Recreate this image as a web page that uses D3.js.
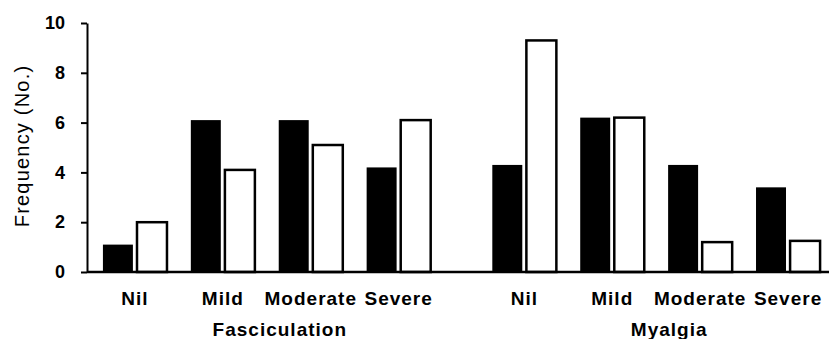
<!DOCTYPE html>
<html>
<head>
<meta charset="utf-8">
<script src="https://cdn.jsdelivr.net/npm/d3@7"></script>
<style>
  body { margin: 0; background: #fff; }
  text { font-family: "Liberation Sans", Arial, sans-serif; fill: #000; }
</style>
</head>
<body>
<div id="chart"></div>
<script>
// data
var groups = ["Fasciculation", "Myalgia"];
var categories = ["Nil", "Mild", "Moderate", "Severe"];
var series = ["black", "white"];
var fascBlack = [1.1, 6.1, 6.1, 4.2];
var fascWhite = [2.0, 4.1, 5.1, 6.1];
var myalBlack = [4.3, 6.2, 4.3, 3.4];
var myalWhite = [9.3, 6.2, 1.2, 1.25];
var yTicks = [0, 2, 4, 6, 8, 10];

var values = {
  "Fasciculation": { black: fascBlack, white: fascWhite },
  "Myalgia": { black: myalBlack, white: myalWhite }
};

var width = 829, height = 339;
var axisX = 87, baseY = 272;

var svg = d3.select("#chart").append("svg")
  .attr("width", width)
  .attr("height", height);

var y = d3.scaleLinear().domain([0, 10]).range([baseY, 23]);

var xGroup = d3.scaleBand().domain(groups).range([91, 832]).paddingInner(0.097);
var xCat = d3.scaleBand().domain(categories).range([0, xGroup.bandwidth()]);
var xSer = d3.scaleBand().domain(series).range([0, xCat.bandwidth()])
  .paddingInner(0.12).paddingOuter(0.35);

// bars
groups.forEach(function(gname) {
  var g = svg.append("g").attr("transform", "translate(" + xGroup(gname) + ",0)");
  series.forEach(function(s) {
    g.selectAll("rect." + s)
      .data(values[gname][s])
      .enter().append("rect")
      .attr("class", s)
      .attr("x", function(d, i) { return xCat(categories[i]) + xSer(s); })
      .attr("y", function(d) { return y(d); })
      .attr("width", xSer.bandwidth())
      .attr("height", function(d) { return baseY - y(d); })
      .attr("fill", s == "black" ? "#000" : "#fff")
      .attr("stroke", "#000")
      .attr("stroke-width", s == "black" ? 0 : 2.5);
  });

  // category labels
  var ax = g.append("g")
    .attr("transform", "translate(0," + (baseY + 16) + ")")
    .call(d3.axisBottom(xCat).tickSize(0));
  ax.select(".domain").remove();
  ax.selectAll("text")
    .attr("font-size", 19)
    .attr("font-weight", "bold")
    .attr("letter-spacing", 1)
    .attr("font-family", "Liberation Sans, Arial, sans-serif")
    .attr("fill", "#000");

  g.append("text")
    .attr("x", xGroup.bandwidth() / 2 + 13)
    .attr("y", 336)
    .attr("text-anchor", "middle")
    .attr("font-size", 19)
    .attr("font-weight", "bold")
    .attr("letter-spacing", 1)
    .text(gname);
});

// baseline
svg.append("line")
  .attr("x1", axisX).attr("x2", width)
  .attr("y1", baseY).attr("y2", baseY)
  .attr("stroke", "#000").attr("stroke-width", 2.5);

// y axis
var yAx = svg.append("g")
  .attr("transform", "translate(" + axisX + ",0)")
  .call(d3.axisLeft(y).tickValues(yTicks).tickSize(6).tickSizeOuter(0).tickPadding(16));
yAx.select(".domain").attr("stroke-width", 2);
yAx.selectAll(".tick line").attr("stroke-width", 2);
yAx.selectAll("text")
  .attr("font-size", 18)
  .attr("font-weight", "bold")
  .attr("font-family", "Liberation Sans, Arial, sans-serif")
  .attr("fill", "#000");

svg.append("text")
  .attr("transform", "translate(29," + 146 + ") rotate(-90)")
  .attr("text-anchor", "middle")
  .attr("font-size", 20)
  .attr("letter-spacing", 1.2)
  .text("Frequency (No.)");
</script>
</body>
</html>
